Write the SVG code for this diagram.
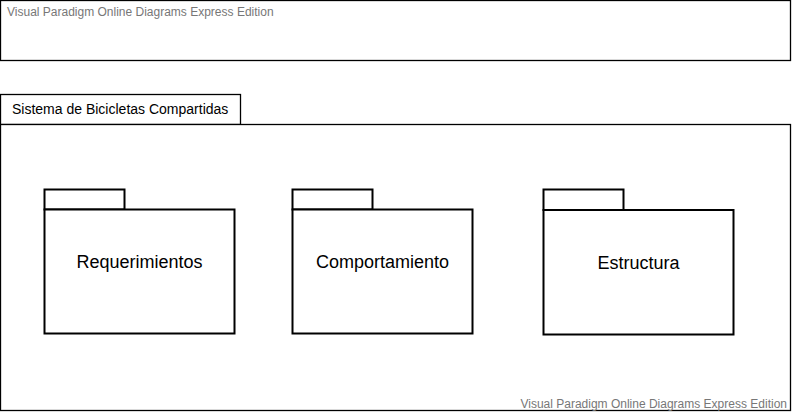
<svg xmlns="http://www.w3.org/2000/svg" width="793" height="414" viewBox="0 0 793 414">
<style>
.box{fill:#fff;stroke:#000;stroke-width:1.3}
.pk{fill:#fff;stroke:#000;stroke-width:2}
.wm{font-family:"Liberation Sans",Arial,sans-serif;font-size:12px;fill:#777}
.lbl{font-family:"Liberation Sans",Arial,sans-serif;font-size:14px;fill:#000}
.pl{font-family:"Liberation Sans",Arial,sans-serif;font-size:18px;fill:#000;text-anchor:middle}
</style>
<rect width="793" height="414" fill="#fff"/>
<g id="header">
<rect class="box" x="0.5" y="0.5" width="790" height="60"/>
<text class="wm" x="7" y="16">Visual Paradigm Online Diagrams Express Edition</text>
</g>
<g id="system">
<rect class="box" x="0.5" y="94.5" width="240" height="30"/>
<rect class="box" x="0.5" y="124.5" width="790" height="286"/>
<text class="lbl" x="12" y="114">Sistema de Bicicletas Compartidas</text>
<text class="wm" x="787" y="408" text-anchor="end">Visual Paradigm Online Diagrams Express Edition</text>
</g>
<g id="requerimientos">
<rect class="pk" x="44.5" y="189.5" width="80" height="20"/>
<rect class="pk" x="44.5" y="209.5" width="190" height="124"/>
<text class="pl" x="139.5" y="268">Requerimientos</text>
</g>
<g id="comportamiento">
<rect class="pk" x="292.5" y="189.5" width="80" height="20"/>
<rect class="pk" x="292.5" y="209.5" width="180" height="124"/>
<text class="pl" x="382.5" y="268">Comportamiento</text>
</g>
<g id="estructura">
<rect class="pk" x="543.5" y="189.5" width="80" height="20.5"/>
<rect class="pk" x="543.5" y="210" width="190" height="124.5"/>
<text class="pl" x="638.5" y="269">Estructura</text>
</g>
<g id="connectors"></g>
</svg>
